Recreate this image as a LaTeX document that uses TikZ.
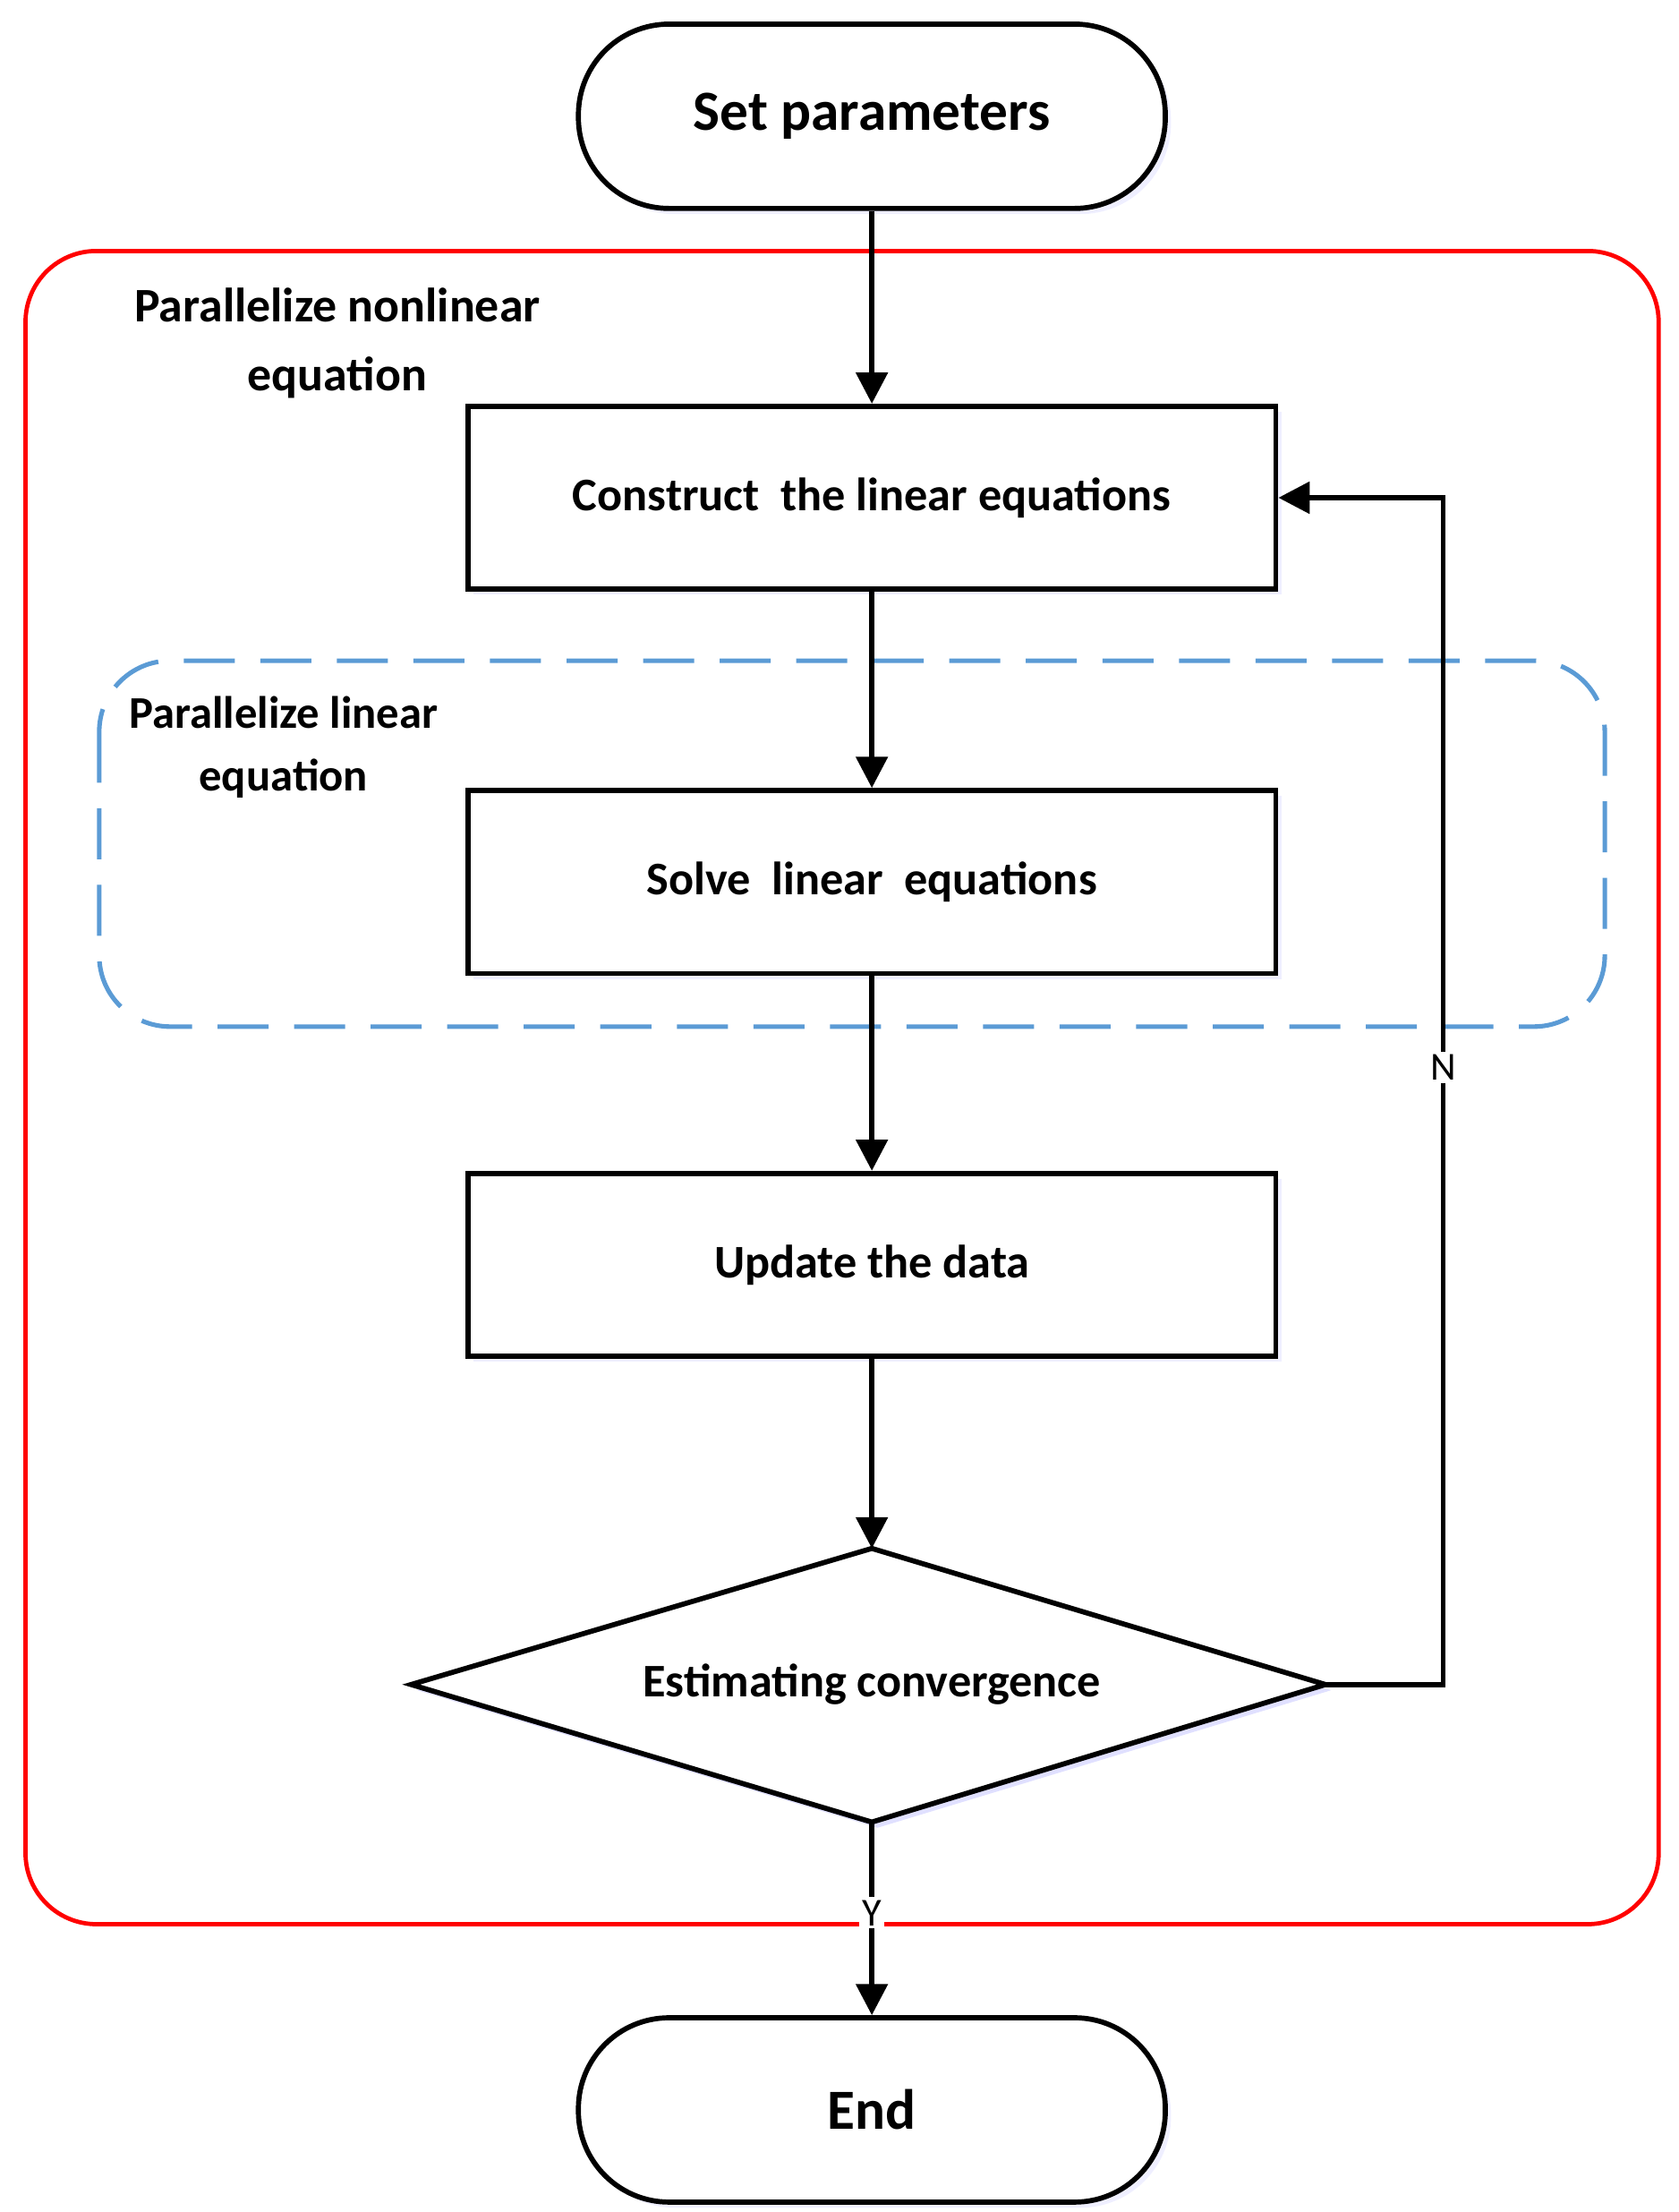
\documentclass[tikz,border=0pt]{standalone}
\usepackage{fontspec}
\setmainfont{Carlito}
\usetikzlibrary{shapes.geometric,arrows.meta,shadows}
\definecolor{dblue}{HTML}{5B9BD5}
\begin{document}
\begin{tikzpicture}[x=0.5pt,y=-0.5pt,
  shad/.style={drop shadow={shadow xshift=2pt,shadow yshift=-2pt,fill=blue!12}},
  box/.style={draw,line width=1.8pt,fill=white,minimum width=285pt,minimum height=64.5pt,font=\bfseries\fontsize{16.5}{20}\selectfont,shad},
  term/.style={draw,line width=1.8pt,fill=white,rounded corners=32pt,minimum width=207pt,minimum height=65pt,font=\bfseries\fontsize{20}{24}\selectfont,shad},
  arr/.style={line width=1.8pt,-{Triangle[length=11pt,width=11pt]}},
  lab/.style={font=\bfseries\fontsize{17}{24}\selectfont,align=center}]
\useasboundingbox (0,0) rectangle (1184,1560);
\draw[red,line width=1.5pt,rounded corners=25pt] (18,177) rectangle (1170,1357);
\draw[dblue,line width=1.6pt,dash pattern=on 18pt off 9pt,rounded corners=25pt] (70,466) rectangle (1132,724);
\node[term] (set) at (615,82) {Set parameters};
\node[box] (con) at (615,351) {Construct\ \ the linear equations};
\node[box] (sol) at (615,622) {Solve\ \ linear\ \ equations};
\node[box] (upd) at (615,892) {Update the data};
\coordinate (dn) at (615,1092);
\coordinate (de) at (935,1188);
\coordinate (ds) at (615,1285);
\coordinate (dw) at (290,1188);
\fill[blue!12] ([shift={(4,4)}]dn) -- ([shift={(4,4)}]de) -- ([shift={(4,4)}]ds) -- ([shift={(4,4)}]dw) -- cycle;
\draw[line width=1.8pt,fill=white,line join=miter] (dn) -- (de) -- (ds) -- (dw) -- cycle;
\node[font=\bfseries\fontsize{16.5}{20}\selectfont] (dec) at (615,1188) {Estimating convergence};
\node[term] (end) at (615,1488) {End};
\node[lab] (l1) at (238,242) {Parallelize nonlinear\\equation};
\node[lab,font=\bfseries\fontsize{16}{22}\selectfont] (l2) at (200,527) {Parallelize linear\\equation};
\draw[arr] (set) -- (con);
\draw[arr] (con) -- (sol);
\draw[arr] (sol) -- (upd);
\draw[arr] (upd) -- (dn);
\draw[arr] (ds) -- node[fill=white,inner sep=1pt,pos=0.47,font=\fontsize{14}{16}\selectfont]{Y} (end);
\coordinate (c1) at (1018,1188);
\coordinate (c2) at (1018,351);
\draw[arr] (de) -- (c1) -- node[fill=white,inner sep=1pt,pos=0.52,font=\fontsize{14}{16}\selectfont]{N} (c2) -- (con.east);
\end{tikzpicture}
\end{document}
